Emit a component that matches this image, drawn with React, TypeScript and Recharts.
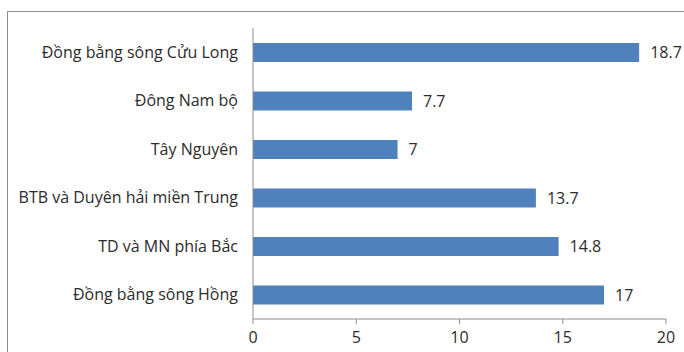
import { BarChart, Bar, XAxis, YAxis, LabelList } from 'recharts'

const regions = [
  'Đồng bằng sông Cửu Long',
  'Đông Nam bộ',
  'Tây Nguyên',
  'BTB và Duyên hải miền Trung',
  'TD và MN phía Bắc',
  'Đồng bằng sông Hồng'
]
const values = [18.7, 7.7, 7, 13.7, 14.8, 17]
const xTicks = [0, 5, 10, 15, 20]
const boundaryTicks = [0, 1, 2, 3, 4, 5, 6]

const data = regions.map((name, i) => ({ name, value: values[i] }))

const font = '"Open Sans", sans-serif'
const axisGray = '#8c8c8c'
const textColor = '#2b2b2b'

export default function App() {
  return (
    <div style={{ position: 'fixed', left: 0, top: 0, width: 684, height: 352, overflow: 'hidden', background: '#fff' }}>
      <div
        style={{
          position: 'absolute',
          left: 7,
          top: 11,
          width: 720,
          height: 400,
          border: `1px solid ${axisGray}`
        }}
      />
      <div style={{ position: 'absolute', left: 0, top: 0 }}>
        <BarChart
          width={684}
          height={352}
          data={data}
          layout="vertical"
          margin={{ top: 28, right: 18, bottom: 0, left: 0 }}
        >
          <YAxis
            yAxisId="bounds"
            type="number"
            domain={[0, 6]}
            ticks={boundaryTicks}
            reversed
            width={0}
            tick={false}
            axisLine={false}
            tickLine={{ stroke: axisGray }}
            tickSize={5}
          />
          <YAxis
            type="category"
            dataKey="name"
            width={253}
            tickLine={false}
            tickSize={0}
            tickMargin={15}
            axisLine={{ stroke: axisGray }}
            tick={{ fill: textColor, fontSize: 16, fontFamily: font }}
          />
          <XAxis
            type="number"
            domain={[0, 20]}
            ticks={xTicks}
            height={33}
            tickSize={5}
            tickMargin={8}
            axisLine={{ stroke: axisGray }}
            tickLine={{ stroke: axisGray }}
            tick={{ fill: textColor, fontSize: 16, fontFamily: font }}
          />
          <Bar dataKey="value" fill="#4f81bd" barSize={19} isAnimationActive={false}>
            <LabelList
              dataKey="value"
              position="right"
              offset={11}
              style={{ fill: textColor, fontSize: 16, fontFamily: font }}
            />
          </Bar>
        </BarChart>
      </div>
    </div>
  )
}
